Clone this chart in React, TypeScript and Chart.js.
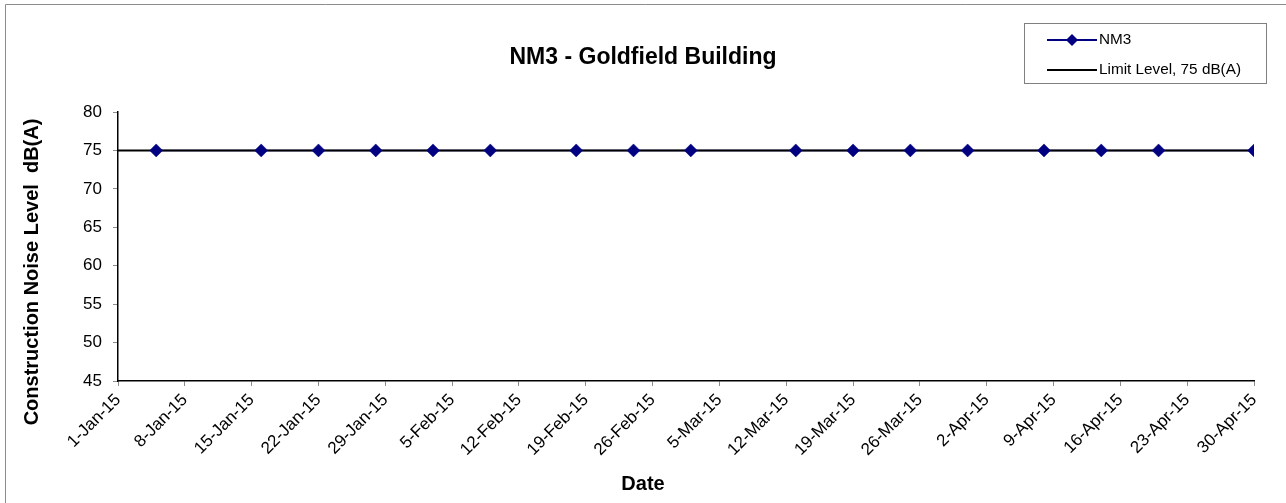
import React, { useEffect, useRef } from "react";
import { Chart, registerables } from "chart.js";

Chart.register(...registerables);

const CHART_TITLE = "NM3 - Goldfield Building";
const X_TITLE = "Date";
const Y_TITLE = "Construction Noise Level  dB(A)";

const START_DATE = "2015-01-01";
const END_DATE = "2015-04-30";
const X_TICK_LABELS = [
  "1-Jan-15", "8-Jan-15", "15-Jan-15", "22-Jan-15", "29-Jan-15", "5-Feb-15",
  "12-Feb-15", "19-Feb-15", "26-Feb-15", "5-Mar-15", "12-Mar-15", "19-Mar-15",
  "26-Mar-15", "2-Apr-15", "9-Apr-15", "16-Apr-15", "23-Apr-15", "30-Apr-15",
];
const Y_MIN = 45;
const Y_MAX = 80;
const Y_STEP = 5;

const NM3_DATES = [
  "2015-01-05", "2015-01-16", "2015-01-22", "2015-01-28", "2015-02-03",
  "2015-02-09", "2015-02-18", "2015-02-24", "2015-03-02", "2015-03-13",
  "2015-03-19", "2015-03-25", "2015-03-31", "2015-04-08", "2015-04-14",
  "2015-04-20", "2015-04-30",
];
const NM3_VALUES = [75, 75, 75, 75, 75, 75, 75, 75, 75, 75, 75, 75, 75, 75, 75, 75, 75];

const LIMIT_LABEL = "Limit Level, 75 dB(A)";
const LIMIT_VALUE = 75;

const NAVY = "#000080";
const FONT = 'Arial, "Liberation Sans", sans-serif';

const dayOf = (d: string) =>
  Math.round((Date.parse(d + "T00:00:00Z") - Date.parse(START_DATE + "T00:00:00Z")) / 86400000);

const decorPlugin = {
  id: "decor",
  afterDraw(chart: any) {
    const ctx = chart.ctx as CanvasRenderingContext2D;
    ctx.save();
    // outer frame
    ctx.strokeStyle = "#8c8c8c";
    ctx.lineWidth = 1;
    ctx.beginPath();
    ctx.moveTo(5.5, 503);
    ctx.lineTo(5.5, 4.5);
    ctx.lineTo(1286, 4.5);
    ctx.stroke();

    // title
    ctx.fillStyle = "#000";
    ctx.font = `bold 23px ${FONT}`;
    ctx.textAlign = "center";
    ctx.textBaseline = "alphabetic";
    ctx.fillText(CHART_TITLE, 643, 64);

    // x title
    ctx.font = `bold 20px ${FONT}`;
    ctx.fillText(X_TITLE, 643, 490);

    // y title
    ctx.save();
    ctx.translate(38, 272);
    ctx.rotate(-Math.PI / 2);
    ctx.fillText(Y_TITLE, 0, 0);
    ctx.restore();

    // legend
    ctx.strokeStyle = "#808080";
    ctx.lineWidth = 1;
    ctx.strokeRect(1024.5, 23.5, 242, 60);
    ctx.lineWidth = 2;
    ctx.strokeStyle = NAVY;
    ctx.beginPath();
    ctx.moveTo(1047, 40);
    ctx.lineTo(1097, 40);
    ctx.stroke();
    ctx.fillStyle = NAVY;
    ctx.beginPath();
    ctx.moveTo(1072 - 6, 40);
    ctx.lineTo(1072, 34);
    ctx.lineTo(1072 + 6, 40);
    ctx.lineTo(1072, 46);
    ctx.closePath();
    ctx.fill();
    ctx.strokeStyle = "#000";
    ctx.beginPath();
    ctx.moveTo(1047, 70);
    ctx.lineTo(1097, 70);
    ctx.stroke();
    ctx.fillStyle = "#000";
    ctx.font = `15.3px ${FONT}`;
    ctx.textAlign = "left";
    ctx.textBaseline = "middle";
    ctx.fillText("NM3", 1099, 40);
    ctx.fillText(LIMIT_LABEL, 1099, 70);
    ctx.restore();
  },
};

export default function App() {
  const ref = useRef<HTMLCanvasElement | null>(null);
  useEffect(() => {
    if (!ref.current) return;
    const xMax = dayOf(END_DATE);
    const nm3Points = NM3_DATES.map((d, i) => ({ x: dayOf(d), y: NM3_VALUES[i] }));
    const limitPoints = [
      { x: 0, y: LIMIT_VALUE },
      { x: xMax, y: LIMIT_VALUE },
    ];
    const chart = new Chart(ref.current, {
      type: "line",
      data: {
        datasets: [
          {
            label: "NM3 markers",
            data: nm3Points,
            showLine: false,
            pointStyle: "rectRot",
            pointRadius: 6.5,
            pointBackgroundColor: NAVY,
            pointBorderColor: NAVY,
            pointBorderWidth: 0.5,
          },
          {
            label: LIMIT_LABEL,
            data: limitPoints,
            borderColor: "#000",
            borderWidth: 2,
            pointRadius: 0,
          },
          {
            label: "NM3",
            data: nm3Points,
            borderColor: NAVY,
            borderWidth: 1.5,
            pointRadius: 0,
          },
        ],
      },
      options: {
        animation: false,
        responsive: true,
        maintainAspectRatio: false,
        layout: { padding: { left: 0, top: 112, right: 32, bottom: 0 } },
        plugins: { legend: { display: false }, tooltip: { enabled: false }, title: { display: false } },
        scales: {
          x: {
            type: "linear",
            min: 0,
            max: xMax,
            afterFit: (s: any) => {
              s.height = 122;
            },
            afterBuildTicks: (s: any) => {
              s.ticks = X_TICK_LABELS.map((_, i) => ({ value: i * 7 }));
            },
            ticks: {
              autoSkip: false,
              minRotation: 45,
              maxRotation: 45,
              padding: 4,
              color: "#000",
              font: { family: FONT, size: 17 },
              callback: (_v: any, i: number) => X_TICK_LABELS[i],
            },
            grid: { drawOnChartArea: false, drawTicks: true, tickLength: 5, color: "#8c8c8c" },
            border: { display: true, color: "#000", width: 1.5 },
          },
          y: {
            min: Y_MIN,
            max: Y_MAX,
            afterFit: (s: any) => {
              s.width = 118;
            },
            ticks: {
              stepSize: Y_STEP,
              padding: 11,
              color: "#000",
              font: { family: FONT, size: 17 },
            },
            grid: { drawOnChartArea: false, drawTicks: true, tickLength: 5, color: "#8c8c8c" },
            border: { display: true, color: "#000", width: 1.5 },
          },
        },
      },
      plugins: [decorPlugin],
    });
    return () => chart.destroy();
  }, []);
  return (
    <div style={{ position: "fixed", left: 0, top: 0, width: 1286, height: 503, background: "#fff" }}>
      <canvas ref={ref} />
    </div>
  );
}
